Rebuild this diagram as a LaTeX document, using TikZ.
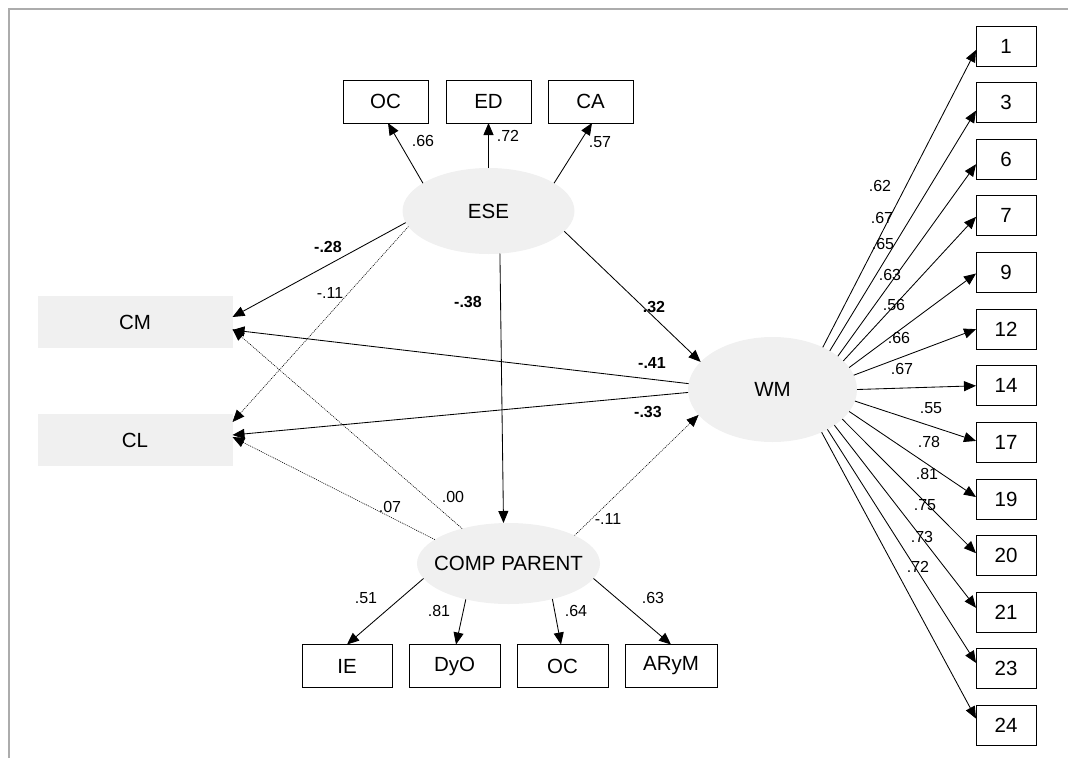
\documentclass[tikz,border=0pt]{standalone}
\usepackage{fontspec}
\setmainfont{Liberation Sans}
\usetikzlibrary{arrows.meta,shapes.geometric}
\definecolor{latentfill}{RGB}{240,240,240}
\definecolor{framegray}{RGB}{172,172,172}

\begin{document}
\begin{tikzpicture}[x=1pt,y=-1pt,
  boxtxt/.style={font=\fontsize{20.5}{24}\selectfont},
  obs/.style={boxtxt, draw=black, line width=0.9pt, fill=white,
    minimum width=85pt, minimum height=43pt, inner sep=0pt, outer sep=0pt},
  item/.style={obs, minimum width=60pt, minimum height=40pt},
  outc/.style={boxtxt, fill=latentfill, minimum width=195pt,
    minimum height=52pt, inner sep=0pt, outer sep=0pt},
  lat/.style={boxtxt, ellipse, fill=latentfill, inner sep=0pt, outer sep=0pt},
  arr/.style={line width=0.85pt, -{Triangle[length=12pt,width=10pt]}},
  dotarr/.style={arr, line width=0.6pt, dash pattern=on 1pt off 1pt},
  coef/.style={font=\fontsize{16}{19}\selectfont, inner sep=0pt},
  bcoef/.style={coef, font=\fontsize{16}{19}\selectfont\bfseries},
]
\useasboundingbox (0,0) rectangle (1068,758);

% frame lines
\draw[framegray, line width=2pt] (8.5,758) -- (8.5,8.5) -- (1068,8.5);

% latent variables
\node[lat, minimum width=172pt, minimum height=86pt] (ESE) at (488.5,211) {\makebox[0pt]{ESE}};
\node[lat, minimum width=169pt, minimum height=105pt] (WM) at (772.5,389.5) {\makebox[0pt]{WM}};
\node[lat, minimum width=183pt, minimum height=81pt] (CP) at (508.5,563.5) {\makebox[0pt]{COMP PARENT}};

% outcomes
\node[outc] (CM) at (135,322) {CM};
\node[outc] (CL) at (135,440) {CL};

% ESE indicators
\node[obs] (OCa) at (385.5,101.5) {OC};
\node[obs] (ED)  at (488.5,101.5) {ED};
\node[obs] (CA)  at (590.5,101.5) {CA};

% COMP PARENT indicators
\node[obs, minimum width=90pt] (IE)   at (347,666)   {IE};
\node[obs, minimum width=91pt] (DyO)  at (454.5,666) {DyO};
\node[obs, minimum width=91pt] (OCb)  at (562.5,666) {OC};
\node[obs, minimum width=92pt] (ARyM) at (671,666)   {ARyM};

% WM items with loadings
\foreach \lab/\ang/\dy/\cf/\cx/\cy [count=\i from 0] in {
   1/40/-4/.62/880/186,
   3/34/-8/.67/882/218,
   6/27/-5/.65/883/244,
   7/22/-1/.63/890/275,
   9/16/-1/.56/894/305,
  12/10/0/.66/899/338,
  14/0/0/.67/902/369,
  17/352/1.5/.55/931/408,
  19/344/2/.78/929/442,
  20/337/2.5/.81/927/474,
  21/330/4.5/.75/925/505,
  23/324/6/.73/922/537,
  24/319/7/.72/918/567}{
  \node[item] (it\lab) at (1006,{46+56.63*\i}) {\lab};
  \draw[arr] (WM.\ang) -- ([yshift=\dy pt]it\lab.west);
  \node[coef] (lw\lab) at (\cx,\cy) {\cf};
}

% ESE measurement paths
\draw[arr] (ESE.157) -- ([xshift=2.5pt]OCa.south);
\draw[arr] (ESE.north) -- (ED.south);
\draw[arr] (ESE.23) -- ([xshift=1.5pt]CA.south);
\node[coef] (lOCa) at (423,141) {.66};
\node[coef] (lED)  at (508,136) {.72};
\node[coef] (lCA)  at (600,142) {.57};

% structural paths
\draw[arr] (ESE.188) -- ([yshift=5pt]CM.east);
\node[bcoef] (lESECM) at (328,247) {-.28};
\draw[dotarr] (ESE.191) -- ([yshift=18pt]CL.east);
\node[coef] (lESECL) at (330,293) {-.11};
\draw[arr] (ESE.285) -- ([xshift=-5pt]CP.north);
\node[bcoef] (lESECP) at (468,302) {-.38};
\draw[arr] (ESE.345) -- (WM.159);
\node[bcoef] (lESEWM) at (654,307) {.32};
\draw[arr] (WM.176) -- ([yshift=-8pt]CM.east);
\node[bcoef] (lWMCM) at (652,363) {-.41};
\draw[arr] (WM.182) -- ([yshift=5pt]CL.east);
\node[bcoef] (lWMCL) at (648,412) {-.33};
\draw[dotarr] (CP.143) -- ([yshift=-7pt]CM.east);
\node[coef] (lCPCM) at (453,497) {.00};
\draw[dotarr] (CP.162) -- ([yshift=3pt]CL.east);
\node[coef] (lCPCL) at (390,507) {.07};
\draw[dotarr] (CP.23) -- (WM.199);
\node[coef] (lCPWM) at (608,519) {-.11};

% COMP PARENT measurement paths
\draw[arr] (CP.190) -- (IE.north);
\draw[arr] (CP.220) -- ([xshift=1.5pt]DyO.north);
\draw[arr] (CP.321) -- ([xshift=-1.5pt]OCb.north);
\draw[arr] (CP.350) -- (ARyM.north);
\node[coef] (lIE)   at (366,598) {.51};
\node[coef] (lDyO)  at (439,611) {.81};
\node[coef] (lOCb)  at (576,611) {.64};
\node[coef] (lARyM) at (653,598) {.63};
\end{tikzpicture}
\end{document}
